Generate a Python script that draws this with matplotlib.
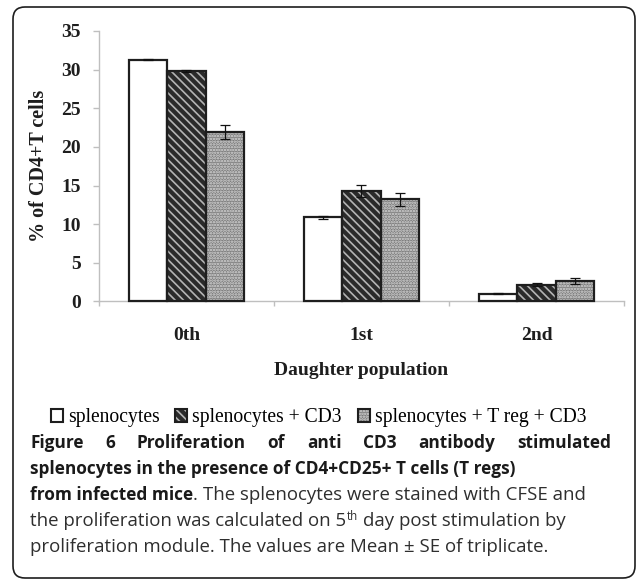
import numpy as np
import matplotlib
matplotlib.use('Agg')
import matplotlib.pyplot as plt
from matplotlib.patches import FancyBboxPatch, Patch
from matplotlib.legend_handler import HandlerTuple

groups = ['0th', '1st', '2nd']
series = ['splenocytes', 'splenocytes + CD3', 'splenocytes + T reg + CD3']
means = [[31.3, 10.9, 1.0],
         [29.8, 14.3, 2.15],
         [21.9, 13.25, 2.7]]
errs = [[0.1, 0.2, 0.05],
        [0.1, 0.8, 0.2],
        [0.9, 0.85, 0.4]]

faces = ['white', '#2a2a2a', '#7c7c7c']
hatches = [None, '\\\\\\\\', '......']
hcols = [None, '#b4b4b4', '#dadada']
outline = '#1e1e1e'
grey = '#bfbfbf'
serif = 'Liberation Serif'
sans = 'Open Sans'

plt.rcParams['hatch.linewidth'] = 1.2

fig = plt.figure(figsize=(6.37, 5.81), dpi=100)
ax = fig.add_axes([0.1554, 0.4811, 0.8242, 0.4656])

x = np.arange(len(groups))
w = 0.22
for i in range(3):
    xs = x + (i - 1) * w
    ax.bar(xs, means[i], w, color=faces[i], linewidth=0, zorder=2)
    if hatches[i]:
        ax.bar(xs, means[i], w, fill=False, hatch=hatches[i],
               edgecolor=hcols[i], linewidth=0, zorder=3)
    ax.bar(xs, means[i], w, fill=False, edgecolor=outline, linewidth=1.6,
           zorder=4, clip_on=False)
    ax.errorbar(xs, means[i], yerr=errs[i], fmt='none', ecolor='#111111',
                elinewidth=0.9, capsize=3.5, capthick=0.9, zorder=5)

ax.set_xlim(-0.5, 2.5)
ax.set_ylim(0, 35)
ax.set_yticks(range(0, 36, 5))
ax.set_xticks([-0.5, 0.5, 1.5, 2.5])
ax.set_xticklabels([])
ax.set_xticks(x, minor=True)
ax.set_xticklabels(groups, minor=True)
for s in ['top', 'right']:
    ax.spines[s].set_visible(False)
for s in ['left', 'bottom']:
    ax.spines[s].set_color(grey)
    ax.spines[s].set_linewidth(1.0)
ax.tick_params(axis='y', length=4.3, width=1.0, color=grey, pad=9,
               labelsize=14, labelcolor='#1e1e1e')
ax.tick_params(axis='x', which='major', length=3.6, width=1.0, color=grey)
ax.tick_params(axis='x', which='minor', length=0, pad=18.5, labelsize=14,
               labelcolor='#1e1e1e')
for t in ax.get_yticklabels() + ax.get_xticklabels(minor=True):
    t.set_fontfamily(serif)
    t.set_fontweight('bold')

ax.set_ylabel('% of CD4+T cells', fontsize=14.5, fontweight='bold',
              family=serif, color='#1e1e1e')
ax.yaxis.set_label_coords(-0.095, 0.5)
ax.set_xlabel('Daughter population', fontsize=14, fontweight='bold',
              family=serif, color='#1e1e1e', labelpad=12.5)

handles = []
for i in range(3):
    parts = [Patch(facecolor=faces[i], edgecolor='none')]
    if hatches[i]:
        parts.append(Patch(facecolor='none', edgecolor=hcols[i],
                           hatch=hatches[i], linewidth=0))
    parts.append(Patch(facecolor='none', edgecolor=outline, linewidth=1.5))
    handles.append(tuple(parts))
fig.legend(handles, series, loc='center', bbox_to_anchor=(0.5, 0.2806),
           ncol=3, frameon=False,
           handler_map={tuple: HandlerTuple(ndivide=1, pad=0)},
           prop={'family': serif, 'size': 14.1}, handlelength=0.62,
           handleheight=0.62, handletextpad=0.25, columnspacing=0.8,
           borderaxespad=0, borderpad=0)

# frame and caption, drawn in pixel coordinates
cap = fig.add_axes([0, 0, 1, 1], zorder=-1)
cap.set_xlim(0, 637)
cap.set_ylim(581, 0)
cap.axis('off')
cap.add_patch(FancyBboxPatch((13, 7), 622, 571,
                             boxstyle='round,pad=0,rounding_size=12',
                             facecolor='none', edgecolor='#1e1e1e',
                             linewidth=1.2))

r = fig.canvas.get_renderer()
bold = dict(family=sans, fontsize=12.4, fontweight='bold', color='#1a1a1a')
reg = dict(family=sans, fontsize=13.4, color='#2e2e2e')
sup = dict(family=sans, fontsize=8.3, color='#2e2e2e')


def width(txt, kw):
    t = cap.text(0, 0, txt, **kw)
    wd = t.get_window_extent(renderer=r).width
    t.remove()
    return wd


sp_r = width('x x', reg) - width('xx', reg)


def put(xp, yp, txt, kw, dy=0):
    t = cap.text(xp, yp - dy, txt, va='baseline', ha='left', **kw)
    return xp + t.get_window_extent(renderer=r).width


x0 = 30
# justified first line
words = 'Figure 6 Proliferation of anti CD3 antibody stimulated'.split()
wds = [width(wd, bold) for wd in words]
gap = (611 - x0 - sum(wds)) / (len(words) - 1)
xp = x0
for wd, ww in zip(words, wds):
    put(xp, 448, wd, bold)
    xp += ww + gap

put(x0, 474, 'splenocytes in the presence of CD4+CD25+ T cells (T regs)', bold)
xp = put(x0, 500, 'from infected mice', bold)
xp = put(xp, 500, '.', reg) + sp_r
put(xp, 500, 'The splenocytes were stained with CFSE and', reg)
xp = put(x0, 526, 'the proliferation was calculated on 5', reg)
xp = put(xp + 0.5, 526, 'th', sup, dy=6)
put(xp + sp_r, 526, 'day post stimulation by', reg)
put(x0, 552, 'proliferation module. The values are Mean \u00b1 SE of triplicate.', reg)

fig.savefig('out.png', dpi=100)
